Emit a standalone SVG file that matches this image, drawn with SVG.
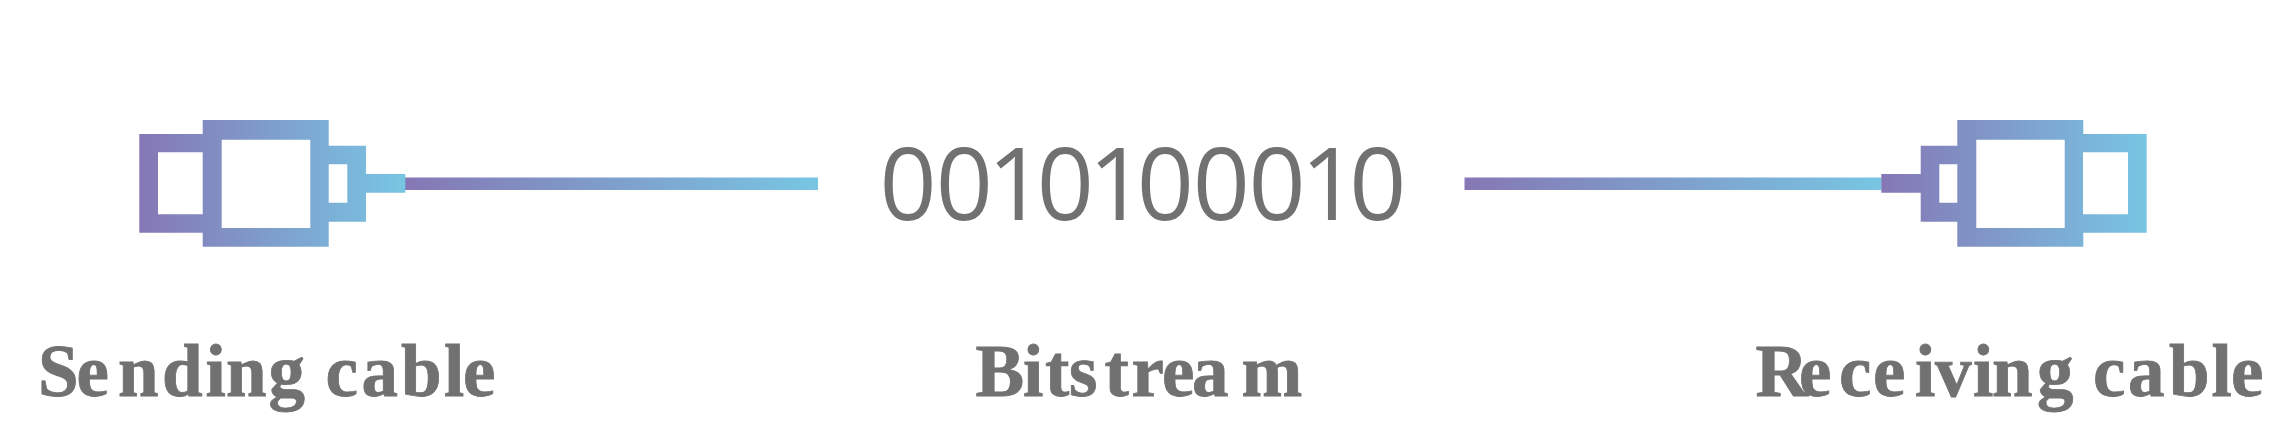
<svg xmlns="http://www.w3.org/2000/svg" width="2294" height="446" viewBox="0 0 2294 446">
<style>
.lbl{font-family:"Liberation Serif","Times New Roman",serif;font-weight:700;font-size:73px;fill:#717171;stroke:#717171;stroke-width:.8px}
.bits{font-family:"Open Sans","Noto Sans",sans-serif;font-size:100px;fill:#717171}
</style>
<defs>
<linearGradient id="g"><stop offset="0" stop-color="#8577b5"/><stop offset="1" stop-color="#78c6e3"/></linearGradient>
</defs>
<rect width="2294" height="446" fill="#fff"/>
<g id="connectors">
<rect x="405" y="177.5" width="413" height="12.5" fill="url(#g)"/>
<rect x="1464.5" y="177.5" width="417" height="12.5" fill="url(#g)"/>
</g>
<g id="sending-cable">
<path fill="url(#g)" fill-rule="evenodd" d="M139.3 134H202.7V120H328.7V145.7H366V174H405.3V192.7H366V221.7H328.7V246.7H202.7V232.7H139.3ZM158 152.3V214.3H202.7V152.3ZM221.7 139.7V228H310.3V139.7ZM328.7 164.3V202.7H347.3V164.3Z"/>
<text class="lbl" x="38 76.5 118 162 205.5 226 268.5 310 325.5 361.5 401 444 463" y="396">Sending cable</text>
</g>
<g id="bitstream">
<text class="bits" x="879.6 935.7 987.5 1036.7 1088.5 1136.7 1192.8 1248.5 1300.7 1349.2" y="220">0010100010</text>
<text class="lbl" x="975.5 1023 1045 1069 1104.5 1131.5 1162 1192 1241.5" y="396">Bitstream</text>
</g>
<g id="receiving-cable">
<path fill="url(#g)" fill-rule="evenodd" d="M1881.3 174H1920.7V145.7H1957.3V120H2083.3V134H2146.7V232.7H2083.3V246.7H1957.3V221.7H1920.7V192.7H1881.3ZM1939.3 164.3V202.7H1957.3V164.3ZM1976.3 139.7V228H2064.7V139.7ZM2083 152.3V214.3H2128V152.3Z"/>
<text class="lbl" x="1755.5 1799 1839 1873 1915 1935 1973 1992 2037 2076 2093 2128 2169 2211.5 2231" y="396">Receiving cable</text>
</g>
</svg>
